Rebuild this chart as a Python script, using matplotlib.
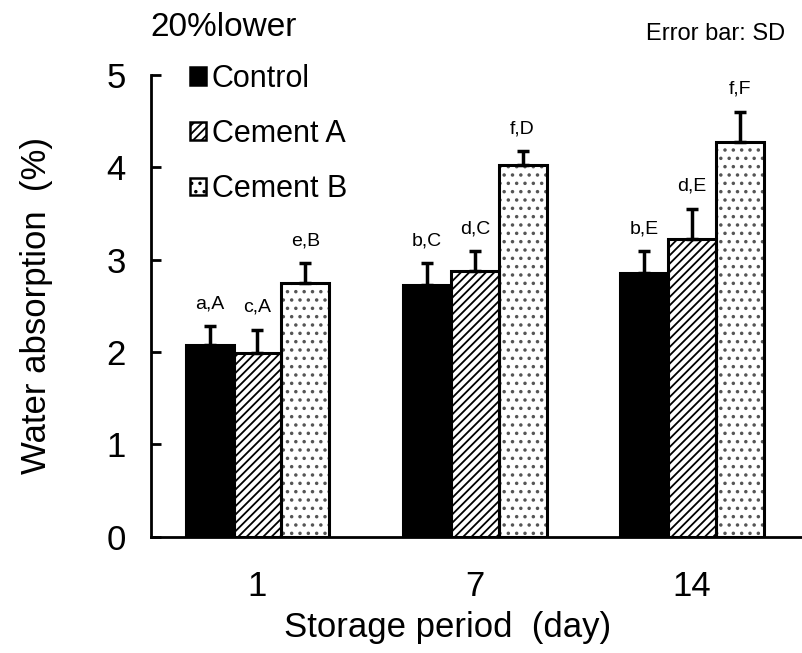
import numpy as np
import matplotlib
matplotlib.use("Agg")
import matplotlib.pyplot as plt

# --- data ---
days = ["1", "7", "14"]
groups = ["Control", "Cement A", "Cement B"]
control_mean = [2.08, 2.72, 2.86]
control_sd = [0.20, 0.24, 0.23]
cementA_mean = [1.99, 2.88, 3.22]
cementA_sd = [0.25, 0.21, 0.33]
cementB_mean = [2.75, 4.02, 4.27]
cementB_sd = [0.21, 0.15, 0.33]
control_lbl = ["a,A", "b,C", "b,E"]
cementA_lbl = ["c,A", "d,C", "d,E"]
cementB_lbl = ["e,B", "f,D", "f,F"]

plt.rcParams["font.family"] = ["Liberation Sans", "DejaVu Sans"]
plt.rcParams["hatch.linewidth"] = 1.3

fig = plt.figure(figsize=(8.03, 6.53), dpi=100)
ax = fig.add_axes([0.188, 0.178, 0.812, 0.7075])

x = np.arange(len(days))
w = 0.22
series = [
    (control_mean, control_sd, control_lbl, "black", None, "black"),
    (cementA_mean, cementA_sd, cementA_lbl, "white", "////", "black"),
    (cementB_mean, cementB_sd, cementB_lbl, "white", "..", "#555555"),
]

handles = []
for i, (m, sd, lbl, fc, hatch, hc) in enumerate(series):
    xs = x + (i - 1) * w
    # hatch layer first (its own colour), then the black outline on top
    ax.bar(xs, m, width=w, color=fc, edgecolor=hc, linewidth=0,
           hatch=hatch, zorder=2)
    ax.bar(xs, m, width=w, fill=False, edgecolor="black", linewidth=2.2,
           zorder=2.5)
    handles.append(plt.Rectangle((0, 0), 1, 1, facecolor=fc, edgecolor="black",
                                 linewidth=1.8, hatch=hatch))
    ax.errorbar(xs, m, yerr=[np.zeros(len(sd)), sd], fmt="none",
                ecolor="black", elinewidth=2.5, capsize=4, capthick=2.5,
                zorder=3)
    for xi, yi, s, t in zip(xs, m, sd, lbl):
        ax.annotate(t, (xi, yi + s), xytext=(0, 10), textcoords="offset points",
                    ha="center", va="bottom", fontsize=14)

ax.set_xlim(-0.49, 2.51)
ax.set_ylim(0, 5)
ax.set_xticks(x)
ax.set_xticklabels(days)
ax.set_yticks(range(6))
ax.tick_params(axis="x", length=0, pad=24, labelsize=25)
ax.tick_params(axis="y", direction="in", length=7, width=2, pad=18, labelsize=25)
for s in ["top", "right"]:
    ax.spines[s].set_visible(False)
for s in ["left", "bottom"]:
    ax.spines[s].set_linewidth(2)

ax.set_xlabel("Storage period  (day)", fontsize=25)
ax.xaxis.set_label_coords(0.455, -0.16)
ax.set_ylabel("Water absorption  (%)", fontsize=25)
ax.yaxis.set_label_coords(-0.15, 0.5)

ax.legend(handles, groups, loc="upper left", bbox_to_anchor=(0.237, 0.902),
          bbox_transform=fig.transFigure, frameon=False, fontsize=22,
          handlelength=0.5, handleheight=0.5, handletextpad=0.2,
          labelspacing=0.82, borderaxespad=0, borderpad=0)

fig.text(0.187, 0.958, "20%lower", fontsize=24, ha="left", va="center")
fig.text(0.978, 0.948, "Error bar: SD", fontsize=17, ha="right", va="center")

fig.savefig("out.png", dpi=100)
